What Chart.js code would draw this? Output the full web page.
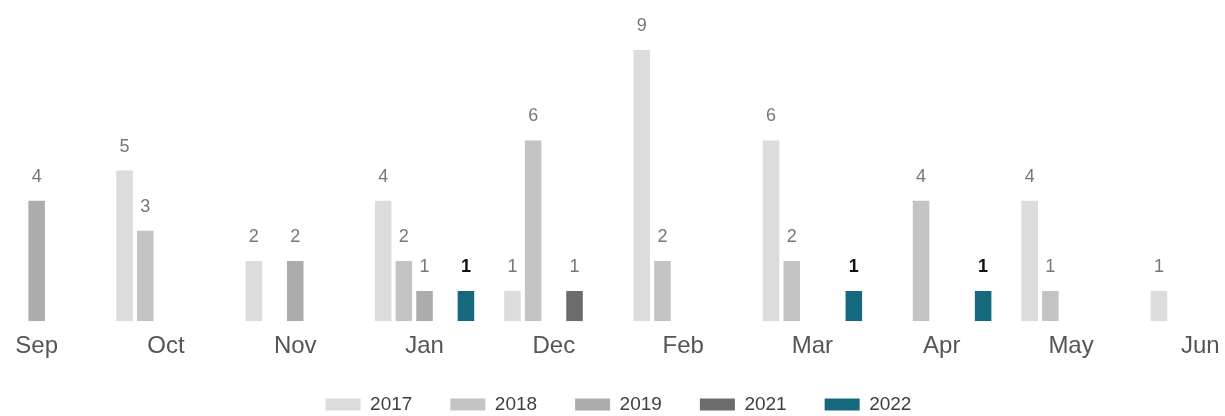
<!DOCTYPE html>
<html>
<head>
<meta charset="utf-8">
<script src="https://cdn.jsdelivr.net/npm/chart.js@4"></script>
<style>
    html, body { margin: 0; padding: 0; background: #fff; overflow: hidden; }
    body { width: 1225px; height: 416px; position: relative; }
    /* chart is wider than the window: first and last groups are cut at the edges */
    #wrap { position: absolute; left: -40px; top: 0; width: 1305px; height: 439px; }
</style>
</head>
<body>
<div id="wrap"><canvas id="monthChart"></canvas></div>
<script>
// Months as they appear on the axis
const months = ['Sep', 'Oct', 'Nov', 'Jan', 'Dec', 'Feb', 'Mar', 'Apr', 'May', 'Jun'];

// Counts per year (null = no bar)
const y2017 = [null, 5, 2, 4, 1, 9, 6, null, 4, 1];
const y2018 = [null, 3, null, 2, 6, 2, 2, 4, 1, null];
const y2019 = [4, null, 2, 1, null, null, null, null, null, null];
const y2021 = [null, null, null, null, 1, null, null, null, null, null];
const y2022 = [null, null, null, 1, null, null, 1, 1, null, null];

const years = ['2017', '2018', '2019', '2021', '2022'];
const yearColors = ['#dcdcdc', '#c4c4c4', '#acacac', '#6c6c6c', '#15687d'];

const FONT = "'Liberation Sans', Arial, sans-serif";

// Value labels above each bar
const valueLabels = {
    id: 'valueLabels',
    afterDatasetsDraw(chart) {
        const ctx = chart.ctx;
        ctx.save();
        ctx.textAlign = 'center';
        ctx.textBaseline = 'middle';
        chart.data.datasets.forEach((ds, i) => {
            const meta = chart.getDatasetMeta(i);
            const highlight = ds.label === '2022';
            ctx.font = (highlight ? 'bold ' : '') + '18px ' + FONT;
            ctx.fillStyle = highlight ? '#111' : '#777';
            meta.data.forEach((bar, j) => {
                const v = ds.data[j];
                if (v === null || v === undefined) return;
                ctx.fillText(String(v), bar.x, bar.y - 24);
            });
        });
        ctx.restore();
    }
};

// Legend padding is wide for the item spacing, pull the row back up a bit
const legendLift = {
    id: 'legendLift',
    afterLayout(chart) {
        if (chart.legend) {
            chart.legend.top -= 15;
            chart.legend.bottom -= 15;
        }
    }
};

const seriesData = [y2017, y2018, y2019, y2021, y2022];

new Chart(document.getElementById('monthChart'), {
    type: 'bar',
    data: {
        labels: months,
        datasets: years.map((year, i) => ({
            label: year,
            data: seriesData[i],
            backgroundColor: yearColors[i],
            categoryPercentage: 0.8,
            barPercentage: 0.8
        }))
    },
    options: {
        responsive: true,
        maintainAspectRatio: false,
        animation: false,
        events: [],
        layout: { padding: { left: 12, right: 0, top: 50, bottom: 0 } },
        plugins: {
            tooltip: { enabled: false },
            legend: {
                position: 'bottom',
                labels: {
                    boxWidth: 35,
                    boxHeight: 12,
                    padding: 38,
                    color: '#404040',
                    font: { family: FONT, size: 19 }
                }
            }
        },
        scales: {
            x: {
                grid: { display: false, drawTicks: false },
                border: { display: false },
                ticks: {
                    padding: 11,
                    color: '#555',
                    font: { family: FONT, size: 24 }
                }
            },
            y: {
                display: false,
                min: 0,
                max: 9
            }
        }
    },
    plugins: [valueLabels, legendLift]
});
</script>
</body>
</html>
